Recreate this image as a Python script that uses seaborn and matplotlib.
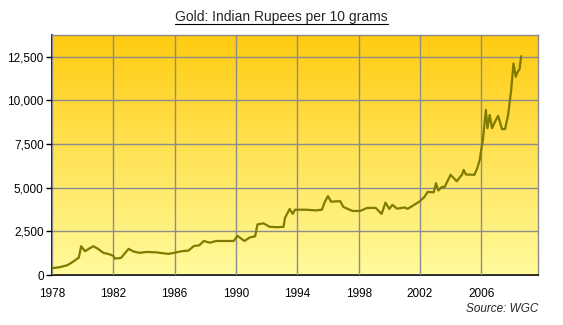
import numpy as np
import pandas as pd
import matplotlib
matplotlib.use('Agg')
import matplotlib.pyplot as plt
from matplotlib.lines import Line2D
import seaborn as sns

# data (decimal year, INR per 10 g)
years = [1978.0, 1978.5, 1979.0, 1979.4, 1979.75, 1979.9, 1980.15, 1980.4, 1980.7, 1981.0,
         1981.35, 1981.7, 1982.0, 1982.1, 1982.5, 1983.0, 1983.3, 1983.7, 1984.2, 1984.8,
         1985.2, 1985.6, 1986.0, 1986.5, 1986.9, 1987.25, 1987.6, 1987.9, 1988.3, 1988.7,
         1989.2, 1989.85, 1990.1, 1990.55, 1990.9, 1991.25, 1991.4, 1991.8, 1992.2, 1992.7,
         1993.1, 1993.2, 1993.5, 1993.7, 1993.85, 1994.6, 1995.2, 1995.6, 1995.8, 1996.0,
         1996.2, 1996.8, 1997.0, 1997.6, 1998.1, 1998.55, 1999.1, 1999.5, 1999.75, 2000.0,
         2000.2, 2000.5, 2001.0, 2001.2, 2001.6, 2001.95, 2002.3, 2002.5, 2002.9, 2003.05,
         2003.2, 2003.45, 2003.6, 2004.0, 2004.4, 2004.75, 2004.85, 2005.0, 2005.55, 2005.75,
         2005.9, 2006.0, 2006.1, 2006.3, 2006.4, 2006.55, 2006.7, 2006.9, 2007.1, 2007.35,
         2007.55, 2007.75, 2007.95, 2008.1, 2008.25, 2008.35, 2008.5, 2008.6]
price = [390, 450, 560, 780, 1000, 1650, 1360, 1500, 1650, 1500,
         1270, 1200, 1100, 940, 980, 1500, 1350, 1270, 1320, 1300,
         1250, 1210, 1280, 1370, 1400, 1660, 1700, 1950, 1850, 1950,
         1950, 1950, 2240, 1950, 2150, 2220, 2900, 2960, 2760, 2740,
         2760, 3280, 3780, 3500, 3740, 3740, 3700, 3740, 4200, 4520,
         4200, 4230, 3900, 3670, 3670, 3840, 3850, 3500, 4150, 3790,
         4020, 3800, 3870, 3790, 4010, 4200, 4480, 4760, 4740, 5260,
         4840, 5060, 5030, 5740, 5370, 5760, 6020, 5760, 5740, 6150,
         6610, 7200, 7700, 9460, 8410, 9170, 8410, 8790, 9120, 8360,
         8360, 9170, 10600, 12120, 11360, 11600, 11800, 12540]

x_ticks = [1978, 1982, 1986, 1990, 1994, 1998, 2002, 2006]
y_ticks = [0, 2500, 5000, 7500, 10000, 12500]

sns.set_theme(style='white')
plt.rcParams['font.family'] = ['Liberation Sans', 'DejaVu Sans']

df = pd.DataFrame({'year': years, 'price': price})

fig = plt.figure(figsize=(5.63, 3.25), dpi=100)
ax = fig.add_axes([0.0924, 0.1538, 0.8632, 0.7385])

# gradient background
grad = np.linspace(0, 1, 256).reshape(-1, 1)
cmap = matplotlib.colors.LinearSegmentedColormap.from_list('g', ['#ffcb10', '#fffb9c'])
ax.imshow(grad, extent=[0, 1, 0, 1], transform=ax.transAxes, cmap=cmap,
          aspect='auto', zorder=0)

sns.lineplot(data=df, x='year', y='price', ax=ax, color='#7f7a00', lw=1.6, zorder=3)

ax.set_xlim(1978, 2009.7)
ax.set_ylim(0, 13750)
ax.set_xticks(x_ticks)
ax.set_yticks(y_ticks)
ax.set_yticklabels(['{:,}'.format(v) for v in y_ticks])
ax.grid(True, color='#8c8c8c', lw=1, zorder=1)
ax.set_axisbelow(False)
for ln in ax.get_xgridlines() + ax.get_ygridlines():
    ln.set_zorder(1)
ax.tick_params(axis='x', length=0, pad=9, labelsize=8.5, colors='black')
ax.tick_params(axis='y', length=4, width=1, pad=2, labelsize=8.5, left=True, colors='black')
ax.set_xlabel('')
ax.set_ylabel('')
for s in ['top', 'right']:
    ax.spines[s].set_color('#8c8c8c')
    ax.spines[s].set_linewidth(1)
for s in ['left', 'bottom']:
    ax.spines[s].set_color('black')
    ax.spines[s].set_linewidth(1.2)

title = fig.text(0.50, 0.947, 'Gold: Indian Rupees per 10 grams', ha='center', va='center',
                 fontsize=10)
fig.text(0.956, 0.05, 'Source: WGC', ha='right', va='center', fontsize=8.5, style='italic')

# underline title
fig.canvas.draw()
bb = title.get_window_extent().transformed(fig.transFigure.inverted())
fig.add_artist(Line2D([bb.x0, bb.x1], [bb.y0 + 0.002, bb.y0 + 0.002], color='black', lw=0.8,
                      transform=fig.transFigure))

fig.savefig('out.png', dpi=100)
